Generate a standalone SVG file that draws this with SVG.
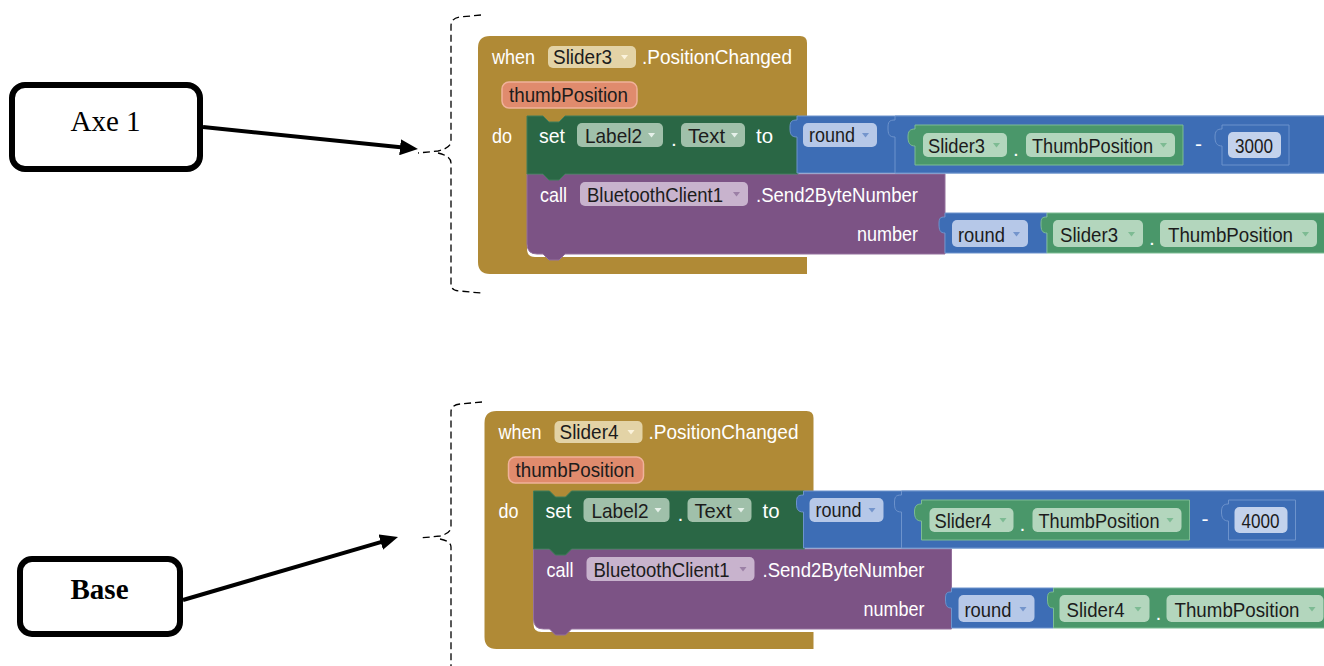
<svg xmlns="http://www.w3.org/2000/svg" width="1324" height="666" viewBox="0 0 1324 666">
<style>
.hw{font-family:"Liberation Sans",Arial,sans-serif;font-size:21px;fill:#fff}
.pt{font-family:"Liberation Sans",Arial,sans-serif;font-size:21px;fill:#1c1c1c}
.gold{fill:#b08a36}
.setg{fill:#2a6745;stroke:#3f7d5a;stroke-width:1}
.blue{fill:#3d6db5;stroke:#6d93cc;stroke-width:1}
.getg{fill:#4a976a;stroke:#7cbc94;stroke-width:1}
.purp{fill:#7c5385;stroke:#94709c;stroke-width:1}
.p-ev{fill:#e3d3a6}
.p-thumb{fill:#e08b6d;stroke:#f0b29a;stroke-width:1.5}
.p-set{fill:#a0c0aa}
.p-rnd{fill:#b6c8e8}
.p-get{fill:#b3d6bd}
.p-num{fill:#c3d2ec}
.p-bt{fill:#c8b3cd}
.dd-ev{fill:#fbf3dc}
.dd-set{fill:#e6f1ea}
.dd-rnd{fill:#7495cc}
.dd-get{fill:#7dbb93}
.dd-bt{fill:#9c80a6}
.box{fill:#fff;stroke:#000;stroke-width:6}
.lbl{font-family:"Liberation Serif","Times New Roman",serif;font-size:29px;fill:#000}
.brk{fill:none;stroke:#000;stroke-width:1.3;stroke-dasharray:7,4}
.conn{stroke:#000;stroke-width:4;fill:none}
</style>
<defs>
<marker id="ah" viewBox="0 0 18 16" markerUnits="userSpaceOnUse" markerWidth="18" markerHeight="16" refX="8" refY="8" orient="auto">
<path d="M0,0 L18,8 L0,16 Z" fill="#000"/>
</marker>
<path id="dd" d="M0,0 h7 l-3.5,4.5 z"/>
</defs>
<rect width="1324" height="666" fill="#fff"/>

<g id="bracket-top">
<path class="brk" d="M481,15 L460,17 Q451,18 451,26 V141 Q451,148 438,151 L418,153 M438,153 Q451,156 451,163 V284 Q451,291 460,291 L481,293"/>
</g>
<g id="bracket-bottom">
<path class="brk" d="M482,402 L460,404 Q451,405 451,412 V527 Q451,533 440,536 L420,538 M440,539 Q451,541 451,547 V670"/>
</g>

<g id="label-axe1">
<rect class="box" x="12" y="85" width="188" height="84" rx="13"/>
<text class="lbl" x="105.5" y="131" text-anchor="middle">Axe 1</text>
</g>
<g id="label-base">
<rect class="box" x="20" y="559" width="160" height="75" rx="12"/>
<text class="lbl" x="99.5" y="599" text-anchor="middle" font-weight="bold">Base</text>
</g>

<g id="connectors">
<line class="conn" x1="203" y1="127" x2="408" y2="148" marker-end="url(#ah)"/>
<line class="conn" x1="183" y1="600" x2="388.4" y2="539.8" marker-end="url(#ah)"/>
</g>

<g id="block-slider3">
<path class="gold" d="M490,36 H800 Q807,36 807,43 V124 H527 V249 Q527,257 535,257 H807 V274 H490 Q478,274 478,262 V48 Q478,36 490,36 Z"/>
<text class="hw" x="492" y="64" textLength="43" lengthAdjust="spacingAndGlyphs">when</text>
<rect class="p-ev" x="548" y="46" width="88" height="22" rx="5"/>
<text class="pt" x="553" y="64" textLength="59" lengthAdjust="spacingAndGlyphs">Slider3</text>
<use href="#dd" class="dd-ev" x="621" y="55"/>
<text class="hw" x="642" y="64" textLength="150" lengthAdjust="spacingAndGlyphs">.PositionChanged</text>
<rect class="p-thumb" x="502" y="82" width="135" height="26" rx="7"/>
<text class="pt" x="509" y="102" textLength="119" lengthAdjust="spacingAndGlyphs">thumbPosition</text>
<text class="hw" x="492" y="143" textLength="20" lengthAdjust="spacingAndGlyphs">do</text>

<path class="purp" d="M527,174 H945 V254 H565 L559,260 H549 L543,254 H537 Q527,254 527,244 Z"/>
<text class="hw" x="540" y="202" textLength="27" lengthAdjust="spacingAndGlyphs">call</text>
<rect class="p-bt" x="580" y="182" width="168" height="24" rx="5"/>
<text class="pt" x="587" y="202" textLength="136" lengthAdjust="spacingAndGlyphs">BluetoothClient1</text>
<use href="#dd" class="dd-bt" x="733" y="192"/>
<text class="hw" x="756" y="202" textLength="162" lengthAdjust="spacingAndGlyphs">.Send2ByteNumber</text>
<text class="hw" x="857" y="241" textLength="61" lengthAdjust="spacingAndGlyphs">number</text>

<path class="setg" d="M527,116 H543 L549,122 H559 L565,116 H798 V174 H565 L559,180 H549 L543,174 H527 Z"/>
<text class="hw" x="539" y="143" textLength="26" lengthAdjust="spacingAndGlyphs">set</text>
<rect class="p-set" x="577" y="123" width="86" height="24" rx="5"/>
<text class="pt" x="585" y="143" textLength="57" lengthAdjust="spacingAndGlyphs">Label2</text>
<use href="#dd" class="dd-set" x="648" y="133"/>
<text class="hw" x="671" y="146">.</text>
<rect class="p-set" x="681" y="123" width="64" height="24" rx="5"/>
<text class="pt" x="688" y="143" textLength="37" lengthAdjust="spacingAndGlyphs">Text</text>
<use href="#dd" class="dd-set" x="731" y="133"/>
<text class="hw" x="756" y="143" textLength="17" lengthAdjust="spacingAndGlyphs">to</text>

<path class="blue" d="M797,116 H1330 V173 H797 V137 C791,137 790,134 790,128 C790,122 791,120 797,120 Z"/>
<rect class="p-rnd" x="803" y="123" width="74" height="24" rx="5"/>
<text class="pt" x="809" y="142" textLength="46" lengthAdjust="spacingAndGlyphs">round</text>
<use href="#dd" class="dd-rnd" x="862" y="133"/>
<path class="blue" d="M895,116 H1330 V173 H895 V137 C889,137 888,134 888,128 C888,122 889,120 895,120 Z"/>
<path class="getg" d="M915,125 H1183 V165 H915 V146 C910,146 908,143 908,137 C908,131 910,129 915,129 Z"/>
<rect class="p-get" x="923" y="133" width="84" height="24" rx="5"/>
<text class="pt" x="928" y="153" textLength="57" lengthAdjust="spacingAndGlyphs">Slider3</text>
<use href="#dd" class="dd-get" x="993" y="143"/>
<text class="hw" x="1013" y="156">.</text>
<rect class="p-get" x="1026" y="133" width="149" height="24" rx="5"/>
<text class="pt" x="1032" y="153" textLength="121" lengthAdjust="spacingAndGlyphs">ThumbPosition</text>
<use href="#dd" class="dd-get" x="1160" y="143"/>
<text class="hw" x="1195" y="151">-</text>
<path class="blue" d="M1222,125 H1289 V165 H1222 V146 C1217,146 1215,143 1215,137 C1215,131 1217,129 1222,129 Z"/>
<rect class="p-num" x="1228" y="132" width="53" height="26" rx="5"/>
<text class="pt" x="1235" y="153" textLength="38" lengthAdjust="spacingAndGlyphs">3000</text>

<path class="blue" d="M945,213 H1047 V253 H945 V233 C940,233 939,230 939,224 C939,218 940,217 945,217 Z"/>
<rect class="p-rnd" x="952" y="220" width="76" height="27" rx="5"/>
<text class="pt" x="958" y="242" textLength="47" lengthAdjust="spacingAndGlyphs">round</text>
<use href="#dd" class="dd-rnd" x="1013" y="232"/>
<path class="getg" d="M1047,213 H1330 V253 H1047 V233 C1042,233 1041,230 1041,224 C1041,218 1042,217 1047,217 Z"/>
<rect class="p-get" x="1053" y="220" width="90" height="27" rx="5"/>
<text class="pt" x="1060" y="242" textLength="58" lengthAdjust="spacingAndGlyphs">Slider3</text>
<use href="#dd" class="dd-get" x="1128" y="232"/>
<text class="hw" x="1149" y="245">.</text>
<rect class="p-get" x="1160" y="220" width="157" height="27" rx="5"/>
<text class="pt" x="1168" y="242" textLength="125" lengthAdjust="spacingAndGlyphs">ThumbPosition</text>
<use href="#dd" class="dd-get" x="1302" y="232"/>
</g>

<g id="block-slider4" transform="translate(6.5,375)">
<path class="gold" d="M490,36 H800 Q807,36 807,43 V124 H527 V249 Q527,257 535,257 H807 V274 H490 Q478,274 478,262 V48 Q478,36 490,36 Z"/>
<text class="hw" x="492" y="64" textLength="43" lengthAdjust="spacingAndGlyphs">when</text>
<rect class="p-ev" x="548" y="46" width="88" height="22" rx="5"/>
<text class="pt" x="553" y="64" textLength="59" lengthAdjust="spacingAndGlyphs">Slider4</text>
<use href="#dd" class="dd-ev" x="621" y="55"/>
<text class="hw" x="642" y="64" textLength="150" lengthAdjust="spacingAndGlyphs">.PositionChanged</text>
<rect class="p-thumb" x="502" y="82" width="135" height="26" rx="7"/>
<text class="pt" x="509" y="102" textLength="119" lengthAdjust="spacingAndGlyphs">thumbPosition</text>
<text class="hw" x="492" y="143" textLength="20" lengthAdjust="spacingAndGlyphs">do</text>

<path class="purp" d="M527,174 H945 V254 H565 L559,260 H549 L543,254 H537 Q527,254 527,244 Z"/>
<text class="hw" x="540" y="202" textLength="27" lengthAdjust="spacingAndGlyphs">call</text>
<rect class="p-bt" x="580" y="182" width="168" height="24" rx="5"/>
<text class="pt" x="587" y="202" textLength="136" lengthAdjust="spacingAndGlyphs">BluetoothClient1</text>
<use href="#dd" class="dd-bt" x="733" y="192"/>
<text class="hw" x="756" y="202" textLength="162" lengthAdjust="spacingAndGlyphs">.Send2ByteNumber</text>
<text class="hw" x="857" y="241" textLength="61" lengthAdjust="spacingAndGlyphs">number</text>

<path class="setg" d="M527,116 H543 L549,122 H559 L565,116 H798 V174 H565 L559,180 H549 L543,174 H527 Z"/>
<text class="hw" x="539" y="143" textLength="26" lengthAdjust="spacingAndGlyphs">set</text>
<rect class="p-set" x="577" y="123" width="86" height="24" rx="5"/>
<text class="pt" x="585" y="143" textLength="57" lengthAdjust="spacingAndGlyphs">Label2</text>
<use href="#dd" class="dd-set" x="648" y="133"/>
<text class="hw" x="671" y="146">.</text>
<rect class="p-set" x="681" y="123" width="64" height="24" rx="5"/>
<text class="pt" x="688" y="143" textLength="37" lengthAdjust="spacingAndGlyphs">Text</text>
<use href="#dd" class="dd-set" x="731" y="133"/>
<text class="hw" x="756" y="143" textLength="17" lengthAdjust="spacingAndGlyphs">to</text>

<path class="blue" d="M797,116 H1330 V173 H797 V137 C791,137 790,134 790,128 C790,122 791,120 797,120 Z"/>
<rect class="p-rnd" x="803" y="123" width="74" height="24" rx="5"/>
<text class="pt" x="809" y="142" textLength="46" lengthAdjust="spacingAndGlyphs">round</text>
<use href="#dd" class="dd-rnd" x="862" y="133"/>
<path class="blue" d="M895,116 H1330 V173 H895 V137 C889,137 888,134 888,128 C888,122 889,120 895,120 Z"/>
<path class="getg" d="M915,125 H1183 V165 H915 V146 C910,146 908,143 908,137 C908,131 910,129 915,129 Z"/>
<rect class="p-get" x="923" y="133" width="84" height="24" rx="5"/>
<text class="pt" x="928" y="153" textLength="57" lengthAdjust="spacingAndGlyphs">Slider4</text>
<use href="#dd" class="dd-get" x="993" y="143"/>
<text class="hw" x="1013" y="156">.</text>
<rect class="p-get" x="1026" y="133" width="149" height="24" rx="5"/>
<text class="pt" x="1032" y="153" textLength="121" lengthAdjust="spacingAndGlyphs">ThumbPosition</text>
<use href="#dd" class="dd-get" x="1160" y="143"/>
<text class="hw" x="1195" y="151">-</text>
<path class="blue" d="M1222,125 H1289 V165 H1222 V146 C1217,146 1215,143 1215,137 C1215,131 1217,129 1222,129 Z"/>
<rect class="p-num" x="1228" y="132" width="53" height="26" rx="5"/>
<text class="pt" x="1235" y="153" textLength="38" lengthAdjust="spacingAndGlyphs">4000</text>

<path class="blue" d="M945,213 H1047 V253 H945 V233 C940,233 939,230 939,224 C939,218 940,217 945,217 Z"/>
<rect class="p-rnd" x="952" y="220" width="76" height="27" rx="5"/>
<text class="pt" x="958" y="242" textLength="47" lengthAdjust="spacingAndGlyphs">round</text>
<use href="#dd" class="dd-rnd" x="1013" y="232"/>
<path class="getg" d="M1047,213 H1330 V253 H1047 V233 C1042,233 1041,230 1041,224 C1041,218 1042,217 1047,217 Z"/>
<rect class="p-get" x="1053" y="220" width="90" height="27" rx="5"/>
<text class="pt" x="1060" y="242" textLength="58" lengthAdjust="spacingAndGlyphs">Slider4</text>
<use href="#dd" class="dd-get" x="1128" y="232"/>
<text class="hw" x="1149" y="245">.</text>
<rect class="p-get" x="1160" y="220" width="157" height="27" rx="5"/>
<text class="pt" x="1168" y="242" textLength="125" lengthAdjust="spacingAndGlyphs">ThumbPosition</text>
<use href="#dd" class="dd-get" x="1302" y="232"/>
</g>
</svg>
